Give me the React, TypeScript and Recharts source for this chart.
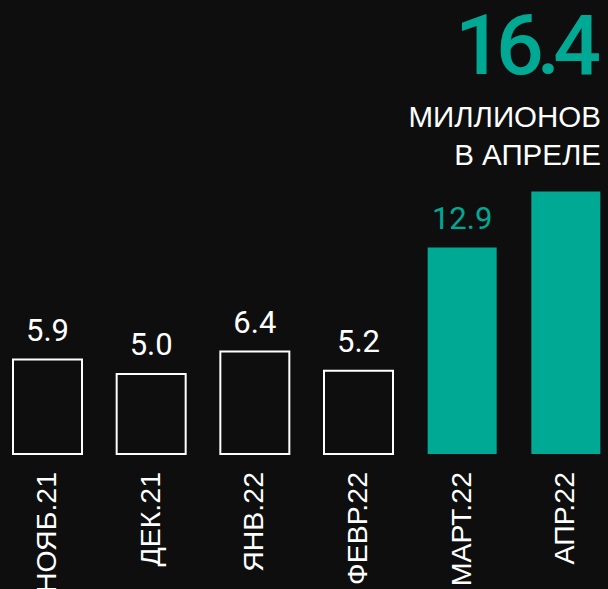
import React from 'react';
import { BarChart, Bar, XAxis, YAxis, Cell, LabelList } from 'recharts';

const categories = ['НОЯБ.21', 'ДЕК.21', 'ЯНВ.22', 'ФЕВР.22', 'МАРТ.22', 'АПР.22'];
const values = [5.9, 5.0, 6.4, 5.2, 12.9, 16.4];
const valueLabels = ['5.9', '5.0', '6.4', '5.2', '12.9', ''];
const highlighted = [false, false, false, false, true, true];
const headline = '16.4';
const subtitleLines = ['МИЛЛИОНОВ', 'В АПРЕЛЕ'];

const BG = '#0e0e0e';
const TEAL = '#00a994';
const WHITE = '#ffffff';

const data = categories.map((cat, i) => ({
  cat,
  value: values[i],
  label: valueLabels[i],
}));

const AxisTick = (props: any) => {
  const { x, y, payload } = props;
  const bx = Number(x) + 8;
  return (
    <text
      x={bx}
      y={y}
      transform={`rotate(-90 ${bx} ${y})`}
      textAnchor="end"
      fill={WHITE}
      fontFamily="'Liberation Sans', Arial, sans-serif"
      fontSize={28.5}
    >
      {payload.value}
    </text>
  );
};

const ValueLabel = (props: any) => {
  const { x, y, width, index, value } = props;
  if (!value) return null;
  return (
    <text
      x={Number(x) + Number(width) / 2}
      y={Number(y) - 19}
      textAnchor="middle"
      fill={highlighted[index] ? TEAL : WHITE}
      fontFamily="Roboto, sans-serif"
      fontSize={31}
    >
      {value}
    </text>
  );
};

export default function App() {
  return (
    <div
      style={{
        position: 'absolute',
        left: 0,
        top: 0,
        width: 608,
        height: 589,
        overflow: 'hidden',
        background: BG,
      }}
    >
      <div style={{ position: 'absolute', left: -4, top: 0 }}>
        <BarChart
          width={622}
          height={589}
          data={data}
          margin={{ top: 134, right: 0, bottom: 0, left: 0 }}
          barSize={69}
        >
          <XAxis
            dataKey="cat"
            height={135}
            axisLine={false}
            tickLine={false}
            tickSize={0}
            tickMargin={18}
            interval={0}
            tick={<AxisTick />}
          />
          <YAxis hide domain={[0, 20]} />
          <Bar dataKey="value" isAnimationActive={false}>
            {data.map((d, i) => (
              <Cell
                key={d.cat}
                fill={highlighted[i] ? TEAL : BG}
                stroke={highlighted[i] ? TEAL : WHITE}
                strokeWidth={highlighted[i] ? 0 : 2}
              />
            ))}
            <LabelList dataKey="label" content={<ValueLabel />} />
          </Bar>
        </BarChart>
      </div>
      <svg
        width={608}
        height={589}
        style={{ position: 'absolute', left: 0, top: 0, pointerEvents: 'none' }}
      >
        <text
          x={601}
          y={74}
          textAnchor="end"
          fill={TEAL}
          fontFamily="Roboto, sans-serif"
          fontWeight={500}
          fontSize={84}
          textLength={146}
          lengthAdjust="spacing"
        >
          {headline}
        </text>
        {subtitleLines.map((line, i) => (
          <text
            key={line}
            x={601}
            y={127 + i * 38}
            textAnchor="end"
            fill={WHITE}
            fontFamily="'Liberation Sans', Arial, sans-serif"
            fontSize={29.5}
          >
            {line}
          </text>
        ))}
      </svg>
    </div>
  );
}
